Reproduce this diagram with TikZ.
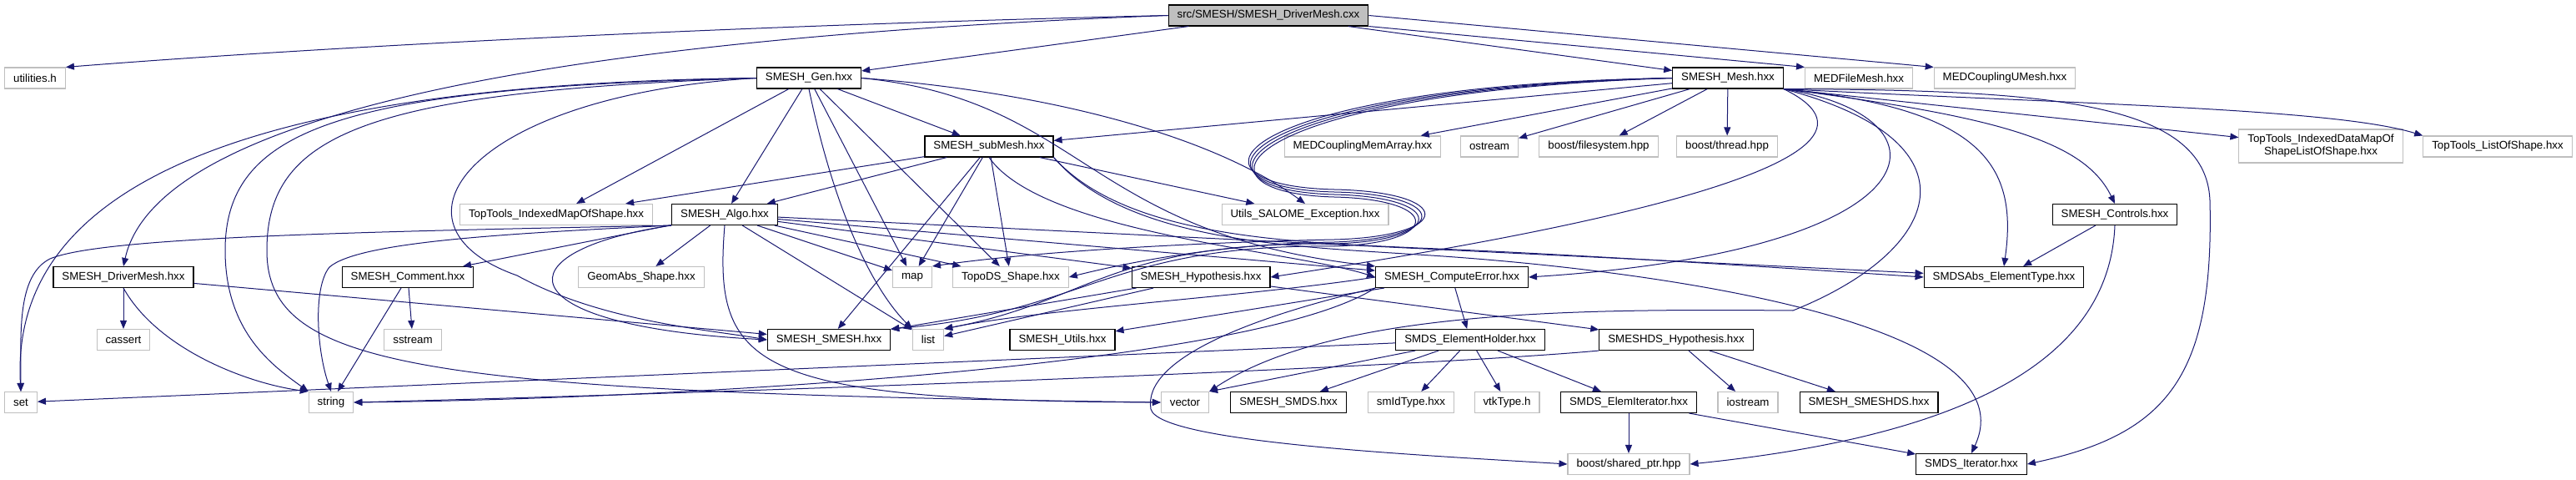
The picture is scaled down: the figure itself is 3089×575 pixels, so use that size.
\documentclass[tikz,border=0pt]{standalone}
\usepackage{fontspec}
\setmainfont{Liberation Sans}
\usetikzlibrary{arrows.meta}
\definecolor{edgeblue}{RGB}{25,25,112}
\definecolor{extgray}{RGB}{191,191,191}
\newcommand{\nodefont}{\fontsize{13.3pt}{15pt}\selectfont}
\tikzset{
  hdrbox/.style={rectangle, draw=black, fill=white, line width=1.1pt,
    minimum height=25pt, inner xsep=10.5pt, inner ysep=2pt, font=\nodefont},
  extbox/.style={hdrbox, draw=extgray},
  rootbox/.style={hdrbox, fill=extgray},
  dep/.style={-{Triangle[length=10pt,width=8pt]}, line width=1pt, color=edgeblue}
}

\begin{document}
\begin{tikzpicture}[x=1pt,y=1pt]
  \useasboundingbox (0,0) rectangle (3089,-575);

  % source file
  \node[rootbox] (root) at (1521,-18.5) {src/SMESH/SMESH\_DriverMesh.cxx};

  % row 1
  \node[extbox] (util) at (42,-93.5) {utilities.h};
  \node[hdrbox] (gen) at (970,-93.5) {SMESH\_Gen.hxx};
  \node[hdrbox] (mesh) at (2072,-93.5) {SMESH\_Mesh.hxx};
  \node[extbox] (medfile) at (2229,-93.5) {MEDFileMesh.hxx};
  \node[extbox] (medumesh) at (2404,-93.5) {MEDCouplingUMesh.hxx};

  % row 2
  \node[hdrbox] (submesh) at (1186,-175.5) {SMESH\_subMesh.hxx};
  \node[extbox] (memarray) at (1634,-175.5) {MEDCouplingMemArray.hxx};
  \node[extbox] (ostr) at (1786,-175.5) {ostream};
  \node[extbox] (fsys) at (1917,-175.5) {boost/filesystem.hpp};
  \node[extbox] (thrd) at (2071,-175.5) {boost/thread.hpp};
  \node[extbox, minimum height=40pt, align=center] (tidm) at (2783,-175) {TopTools\_IndexedDataMapOf\\ShapeListOfShape.hxx};
  \node[extbox] (tlos) at (2995,-175.5) {TopTools\_ListOfShape.hxx};

  % row 3
  \node[extbox] (timap) at (667,-257) {TopTools\_IndexedMapOfShape.hxx};
  \node[hdrbox] (algo) at (869,-257) {SMESH\_Algo.hxx};
  \node[extbox] (utilsexc) at (1565,-257) {Utils\_SALOME\_Exception.hxx};
  \node[hdrbox] (ctrl) at (2536,-257) {SMESH\_Controls.hxx};

  % row 4
  \node[hdrbox] (drv) at (148,-332) {SMESH\_DriverMesh.hxx};
  \node[hdrbox] (cmt) at (489,-332) {SMESH\_Comment.hxx};
  \node[extbox] (geomabs) at (769,-332) {GeomAbs\_Shape.hxx};
  \node[extbox] (map) at (1094,-332) {map};
  \node[extbox] (topods) at (1212,-332) {TopoDS\_Shape.hxx};
  \node[hdrbox] (hyp) at (1440,-332) {SMESH\_Hypothesis.hxx};
  \node[hdrbox] (cerr) at (1741,-332) {SMESH\_ComputeError.hxx};
  \node[hdrbox] (smdsabs) at (2403,-332) {SMDSAbs\_ElementType.hxx};

  % row 5
  \node[extbox] (cassert) at (148,-407) {cassert};
  \node[extbox] (sstr) at (495,-407) {sstream};
  \node[hdrbox] (smesh) at (994,-407) {SMESH\_SMESH.hxx};
  \node[extbox] (list) at (1113,-407) {list};
  \node[hdrbox] (utils) at (1274,-407) {SMESH\_Utils.hxx};
  \node[hdrbox] (elemh) at (1763,-407) {SMDS\_ElementHolder.hxx};
  \node[hdrbox] (dshyp) at (2010,-407) {SMESHDS\_Hypothesis.hxx};

  % row 6
  \node[extbox] (set) at (25,-482) {set};
  \node[extbox] (str) at (397,-482) {string};
  \node[extbox] (vector) at (1421,-482) {vector};
  \node[hdrbox] (smds) at (1545,-482) {SMESH\_SMDS.hxx};
  \node[extbox] (smid) at (1692,-482) {smIdType.hxx};
  \node[extbox] (vtk) at (1807,-482) {vtkType.h};
  \node[hdrbox] (elemit) at (1953,-482) {SMDS\_ElemIterator.hxx};
  \node[extbox] (iostr) at (2096,-482) {iostream};
  \node[hdrbox] (smeshds) at (2241,-482) {SMESH\_SMESHDS.hxx};

  % row 7
  \node[extbox] (shptr) at (1953,-556) {boost/shared\_ptr.hpp};
  \node[hdrbox] (smdsit) at (2364,-556) {SMDS\_Iterator.hxx};

  % includes of the source file
  \draw[dep] (root.west) .. controls (900,-30) and (400,-55) .. (util.north east);
  \draw[dep] (root.west) .. controls (700,-45) and (190,-130) .. (drv.north);
  \draw[dep] (root) -- (gen);
  \draw[dep] (root) -- (mesh);
  \draw[dep] (root.south east) -- (medfile.north west);
  \draw[dep] (root.east) -- (medumesh.north west);

  % SMESH_DriverMesh.hxx
  \draw[dep] (drv) -- (cassert);
  \draw[dep] (drv.south) .. controls (190,-420) and (300,-460) .. (str.north west);
  \draw[dep] (drv) -- (smesh);

  % SMESH_Gen.hxx
  \draw[dep] (gen) -- (submesh);
  \draw[dep] (gen) -- (algo);
  \draw[dep] (gen) -- (timap);
  \draw[dep] (gen) -- (map);
  \draw[dep] (gen) -- (topods);
  \draw[dep] (gen.south) .. controls (1000,-250) and (1045,-345) .. (list.north west);
  \draw[dep] (gen.east) .. controls (1250,-110) and (1450,-160) .. (utilsexc.north);
  \draw[dep] (gen.east) .. controls (1300,-120) and (1300,-280) .. (cerr.north west);
  \draw[dep] (gen.west) .. controls (350,-100) and (10,-200) .. (set.north);
  \draw[dep] (gen.west) .. controls (420,-105) and (270,-150) .. (270,-300)
    .. controls (270,-400) and (330,-440) .. (str.north west);
  \draw[dep] (gen.west) .. controls (440,-110) and (320,-160) .. (320,-300)
    .. controls (320,-440) and (500,-470) .. (vector.west);
  \draw[dep] (gen.west) .. controls (560,-115) and (450,-270) .. (620,-330)
    .. controls (720,-385) and (850,-395) .. (smesh.west);

  % SMESH_subMesh.hxx
  \draw[dep] (submesh) -- (algo);
  \draw[dep] (submesh) -- (timap);
  \draw[dep] (submesh) -- (smesh);
  \draw[dep] (submesh) -- (map);
  \draw[dep] (submesh) -- (topods);
  \draw[dep] (submesh) -- (utilsexc);
  \draw[dep] (submesh.south) .. controls (1250,-280) and (1550,-300) .. (cerr.west);
  \draw[dep] (submesh.south east) .. controls (1350,-285) and (1550,-290) .. (1700,-297)
    .. controls (1900,-305) and (2200,-325) .. (smdsabs.west);
  \draw[dep] (submesh.south east) .. controls (1350,-290) and (1550,-295) .. (1700,-305)
    .. controls (1950,-320) and (2440,-380) .. (smdsit.north);

  % SMESH_Algo.hxx
  \draw[dep] (algo.south west) .. controls (400,-278) and (120,-285) .. (60,-310)
    .. controls (20,-330) and (25,-400) .. (set.north);
  \draw[dep] (algo.south west) .. controls (600,-280) and (430,-290) .. (395,-320)
    .. controls (375,-345) and (380,-420) .. (str.north);
  \draw[dep] (algo) -- (cmt);
  \draw[dep] (algo) -- (geomabs);
  \draw[dep] (algo.south west) .. controls (600,-300) and (600,-390) .. (smesh.west);
  \draw[dep] (algo.south) .. controls (855,-440) and (900,-480) .. (vector.west);
  \draw[dep] (algo) -- (list);
  \draw[dep] (algo) -- (map);
  \draw[dep] (algo) -- (topods);
  \draw[dep] (algo) -- (hyp);
  \draw[dep] (algo) -- (cerr);
  \draw[dep] (algo) -- (smdsabs);

  % SMESH_Comment.hxx
  \draw[dep] (cmt) -- (str);
  \draw[dep] (cmt) -- (sstr);

  % SMESH_Hypothesis.hxx
  \draw[dep] (hyp) -- (dshyp);
  \draw[dep] (hyp) -- (list);
  \draw[dep] (hyp) -- (smesh);

  % SMESH_ComputeError.hxx
  \draw[dep] (cerr) -- (elemh);
  \draw[dep] (cerr) -- (utils);
  \draw[dep] (cerr.west) .. controls (1500,-355) and (1250,-370) .. (list.north east);
  \draw[dep] (cerr.south west) .. controls (1500,-440) and (800,-478) .. (str.east);
  \draw[dep] (cerr.south west) .. controls (1500,-380) and (1370,-430) .. (1380,-490)
    .. controls (1390,-530) and (1700,-545) .. (shptr.west);

  % SMDS_ElementHolder.hxx
  \draw[dep] (elemh) -- (smid);
  \draw[dep] (elemh) -- (vtk);
  \draw[dep] (elemh) -- (elemit);
  \draw[dep] (elemh) -- (smds);
  \draw[dep] (elemh) -- (vector.north east);
  \draw[dep] (elemh) -- (set);

  % SMESHDS_Hypothesis.hxx
  \draw[dep] (dshyp) -- (iostr);
  \draw[dep] (dshyp) -- (smeshds);
  \draw[dep] (dshyp.south west) .. controls (1700,-440) and (900,-470) .. (str.east);

  % SMDS_ElemIterator.hxx
  \draw[dep] (elemit) -- (shptr);
  \draw[dep] (elemit) -- (smdsit);

  % SMESH_Controls.hxx
  \draw[dep] (ctrl) -- (smdsabs);
  \draw[dep] (ctrl.south) .. controls (2530,-420) and (2380,-520) .. (shptr.east);

  % SMESH_Mesh.hxx
  \draw[dep] (mesh) -- (submesh);
  \draw[dep] (mesh) -- (memarray);
  \draw[dep] (mesh) -- (ostr);
  \draw[dep] (mesh) -- (fsys);
  \draw[dep] (mesh) -- (thrd);
  \draw[dep] (mesh.south east) -- (tidm);
  \draw[dep] (mesh.south east) .. controls (2500,-125) and (2800,-130) .. (tlos.north west);
  \draw[dep] (mesh.south east) .. controls (2400,-140) and (2500,-170) .. (ctrl.north);
  \draw[dep] (mesh.south east) .. controls (2380,-130) and (2420,-200) .. (smdsabs.north);
  \draw[dep] (mesh.south east) .. controls (2450,-108) and (2645,-120) .. (2650,-240)
    .. controls (2655,-450) and (2600,-520) .. (smdsit.east);
  \draw[dep] (mesh.south east) .. controls (2350,-140) and (2330,-300) .. (cerr.east);
  \draw[dep] (mesh.south east) .. controls (2330,-200) and (1800,-290) .. (hyp.east);
  \draw[dep] (mesh.south east) .. controls (2380,-170) and (2330,-300) .. (2150,-372)
    .. controls (1900,-370) and (1600,-370) .. (vector.north east);
  \draw[dep] (mesh.west) .. controls (1480,-105) and (1400,-225) .. (1600,-230)
    .. controls (1740,-233) and (1740,-285) .. (1600,-290)
    .. controls (1450,-292) and (1330,-320) .. (topods.east);
  \draw[dep] (mesh.west) .. controls (1480,-102) and (1395,-222) .. (1600,-227)
    .. controls (1745,-230) and (1745,-283) .. (1600,-287)
    .. controls (1450,-290) and (1250,-300) .. (map.north east);
  \draw[dep] (mesh.west) .. controls (1480,-108) and (1405,-228) .. (1600,-233)
    .. controls (1735,-236) and (1735,-288) .. (1600,-292)
    .. controls (1330,-290) and (1310,-360) .. (list.north east);
  \draw[dep] (mesh.west) .. controls (1480,-111) and (1410,-231) .. (1600,-236)
    .. controls (1730,-239) and (1730,-291) .. (1600,-295)
    .. controls (1330,-292) and (1300,-375) .. (smesh.north east);
\end{tikzpicture}
\end{document}
